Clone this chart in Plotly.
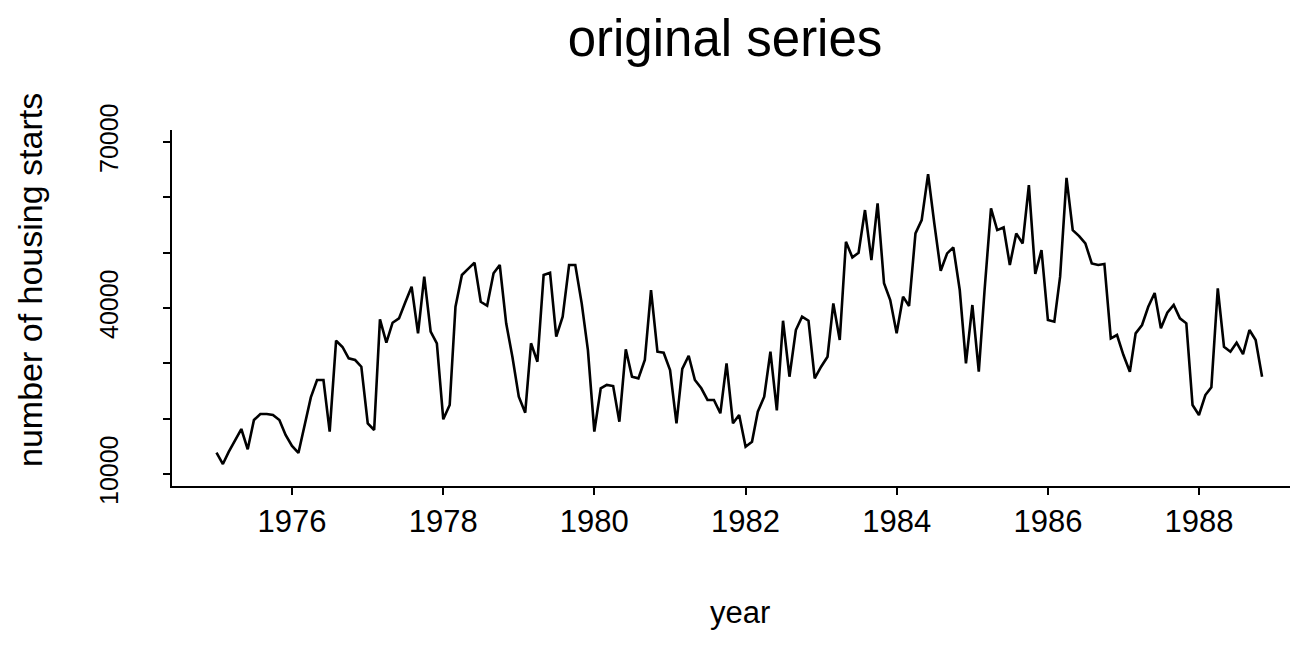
import plotly.graph_objects as go
import pandas as pd

# monthly housing starts, Jan 1975 .. Nov 1988
starts = [
    13850, 11800, 13980, 16050, 18130, 14460, 19760, 20840, 20840, 20660, 19760, 17050,  # 1975
    15060, 13800, 18850, 23840, 26990, 26990, 17650, 34090, 32960, 30900, 30600, 29390,  # 1976
    19160, 17950, 37950, 33730, 37340, 38130, 41000, 43850, 35420, 45660, 35720, 33620,  # 1977
    19880, 22470, 40230, 45960, 47070, 48190, 41130, 40410, 46270, 47770, 37230, 31200,  # 1978
    23970, 21080, 33620, 30290, 45960, 46380, 34810, 38420, 47770, 47770, 40840, 32400,  # 1979
    17650, 25490, 26090, 25900, 19450, 32530, 27580, 27290, 30600, 43250, 32100, 31920,  # 1980
    28790, 19160, 29000, 31380, 26990, 25490, 23380, 23380, 20970, 30000, 19160, 20660,  # 1981
    14930, 15840, 21260, 23970, 32100, 21500, 37700, 27580, 36020, 38420, 37700, 27290,  # 1982
    29390, 31200, 40840, 34210, 51970, 49150, 49990, 57700, 48670, 58920, 44460, 41450,  # 1983
    35420, 42050, 40360, 53480, 55890, 64200, 55290, 46740, 49870, 50960, 43250, 30000,  # 1984
    40540, 28490, 43250, 58010, 54080, 54560, 47770, 53480, 51670, 62210, 46140, 50480,  # 1985
    37830, 37520, 45660, 63520, 54080, 53000, 51670, 48060, 47770, 47950, 34520, 35120,  # 1986
    31500, 28490, 35420, 36920, 40230, 42700, 36330, 39150, 40540, 38130, 37230, 22470,  # 1987
    20660, 24270, 25660, 43550, 33000, 32100, 33730, 31680, 36020, 34210, 27580,         # 1988
]
months = pd.date_range("1975-01-01", periods=len(starts), freq="MS")

year_ticks = ["1976-01-01", "1978-01-01", "1980-01-01", "1982-01-01",
              "1984-01-01", "1986-01-01", "1988-01-01"]
year_labels = ["1976", "1978", "1980", "1982", "1984", "1986", "1988"]
y_ticks = [10000, 20000, 30000, 40000, 50000, 60000, 70000]
y_labels = ["10000", "", "", "40000", "", "", "70000"]

# plot area in page pixels (the page body adds an 8px offset)
OFF = 8
L, R, T, B = 172 - OFF, 1290 - OFF, 130 - OFF, 486 - OFF
W, H = 1308, 653

fig = go.Figure()
fig.add_trace(go.Scatter(x=months, y=starts, mode="lines",
                         line=dict(color="black", width=2.6)))

fig.update_layout(
    width=W, height=H,
    margin=dict(l=L, r=W - R, t=T, b=H - B, autoexpand=False),
    plot_bgcolor="white", paper_bgcolor="white",
    font=dict(family="Liberation Sans, Arial, sans-serif", color="black"),
    showlegend=False,
    title=dict(text="original series", font=dict(size=51),
               xref="container", x=(725 - OFF) / W, xanchor="center",
               yref="container", y=1 - (38 - OFF) / H, yanchor="middle"),
)
fig.update_xaxes(type="date", range=["1974-05-31", "1989-03-16"],
                 tickvals=year_ticks, ticktext=year_labels,
                 tickfont=dict(size=31), ticks="outside", ticklen=7,
                 tickwidth=2, tickcolor="black", ticklabelstandoff=0,
                 showline=True, linecolor="black", linewidth=2,
                 showgrid=False, zeroline=False)
fig.update_yaxes(range=[7830, 72170], tickvals=y_ticks, ticktext=y_labels,
                 tickangle=-90, tickfont=dict(size=25), ticks="outside",
                 ticklen=7, tickwidth=2, tickcolor="black",
                 ticklabelstandoff=35,
                 showline=True, linecolor="black", linewidth=2,
                 showgrid=False, zeroline=False)

fig.add_annotation(text="year", xref="paper", yref="paper",
                   x=(740 - OFF - L) / (R - L), y=(B - (612 - OFF)) / (B - T),
                   xanchor="center", yanchor="middle",
                   showarrow=False, font=dict(size=31))
fig.add_annotation(text="number of housing starts", xref="paper", yref="paper",
                   x=(30 - OFF - L) / (R - L), y=(B - (280 - OFF)) / (B - T),
                   xanchor="center", yanchor="middle",
                   textangle=-90, showarrow=False, font=dict(size=34))

fig.write_html("out.html")
